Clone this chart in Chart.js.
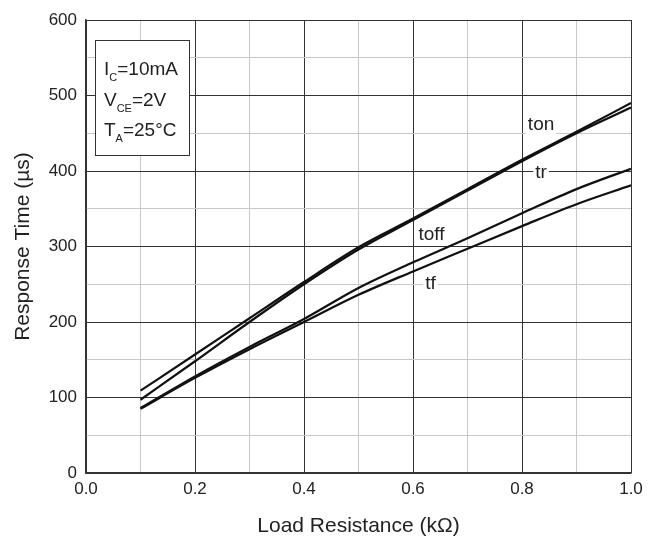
<!DOCTYPE html>
<html>
<head>
<meta charset="utf-8">
<script src="https://cdn.jsdelivr.net/npm/chart.js@4"></script>
<style>
  body { margin: 0; background: #fff; }
  #chart { display: block; }
</style>
</head>
<body>
<canvas id="chart" width="659" height="540"></canvas>
<script>
// Данные
const loadRes = [0.1, 0.2, 0.3, 0.4, 0.5, 0.6, 0.7, 0.8, 0.9, 1.0];
const ton  = [109, 157, 205, 253, 299, 337, 376, 415, 452, 490];
const tr   = [97, 148, 200, 250, 296, 335, 374, 413, 450, 484];
const toff = [86, 128, 167, 204, 245, 279, 311, 344, 376, 403];
const tf   = [85, 126, 164, 200, 236, 267, 297, 327, 356, 381];

// Подписи кривых: [текст, x, y] в координатах данных
const curveLabels = [
    ["ton", 0.835, 461],
    ["tr", 0.835, 397],
    ["toff", 0.634, 315],
    ["tf", 0.632, 251],
];

const FONT = "'Liberation Sans', Arial, sans-serif";

function series(values) {
    return values.map((v, i) => ({ x: loadRes[i], y: v }));
}

function lineSet(values) {
    return {
        data: series(values),
        borderColor: "#111",
        borderWidth: 2.2,
        pointRadius: 0,
        cubicInterpolationMode: "monotone",
        fill: false,
    };
}

// Подписи кривых и рамка с условиями измерения
const annotations = {
    id: "annotations",
    afterDatasetsDraw(chart) {
        const ctx = chart.ctx;
        const xs = chart.scales.x, ys = chart.scales.y;
        ctx.save();
        ctx.font = "19px " + FONT;
        ctx.textAlign = "center";
        ctx.textBaseline = "middle";
        curveLabels.forEach(([text, x, y]) => {
            const px = xs.getPixelForValue(x), py = ys.getPixelForValue(y);
            const w = ctx.measureText(text).width;
            ctx.fillStyle = "#fff";
            ctx.fillRect(px - w / 2 - 2, py - 9, w + 4, 18);
            ctx.fillStyle = "#222";
            ctx.fillText(text, px, py);
        });

        // рамка
        const area = chart.chartArea;
        const bx = area.left + 9, by = area.top + 20, bw = 94, bh = 115;
        ctx.fillStyle = "#fff";
        ctx.fillRect(bx, by, bw, bh);
        ctx.strokeStyle = "#333";
        ctx.lineWidth = 1;
        ctx.strokeRect(bx + 0.5, by + 0.5, bw, bh);

        const rows = [
            ["I", "C", "=10mA"],
            ["V", "CE", "=2V"],
            ["T", "A", "=25°C"],
        ];
        ctx.textAlign = "left";
        ctx.textBaseline = "alphabetic";
        ctx.fillStyle = "#222";
        rows.forEach(([main, sub, rest], i) => {
            const y = by + 35 + i * 30.5;
            let x = bx + 9;
            ctx.font = "19px " + FONT;
            ctx.fillText(main, x, y);
            x += ctx.measureText(main).width;
            ctx.font = "11px " + FONT;
            ctx.fillText(sub, x, y + 6);
            x += ctx.measureText(sub).width;
            ctx.font = "19px " + FONT;
            ctx.fillText(rest, x, y);
        });
        ctx.restore();
    },
};

const majorX = (v) => Math.round(v * 10) % 2 === 0;
const majorY = (v) => Math.round(v) % 100 === 0;

new Chart(document.getElementById("chart"), {
    type: "line",
    data: { datasets: [lineSet(ton), lineSet(tr), lineSet(toff), lineSet(tf)] },
    options: {
        responsive: false,
        animation: false,
        layout: { padding: { left: 0, right: 28, top: 20, bottom: 0 } },
        plugins: { legend: { display: false }, tooltip: { enabled: false } },
        scales: {
            x: {
                type: "linear",
                min: 0,
                max: 1,
                ticks: {
                    stepSize: 0.1,
                    autoSkip: false,
                    maxRotation: 0,
                    padding: 6,
                    color: "#222",
                    font: { size: 17, family: FONT },
                    callback: (v) => (majorX(v) ? v.toFixed(1) : ""),
                },
                grid: {
                    drawTicks: false,
                    color: (c) => (majorX(c.tick.value) ? "#333" : "#c8c8c8"),
                    lineWidth: 1,
                },
                border: { color: "#333", width: 1.5 },
                title: {
                    display: true,
                    text: "Load Resistance (kΩ)",
                    color: "#222",
                    font: { size: 21, family: FONT },
                    padding: { top: 1, bottom: 1 },
                },
                afterFit: (s) => { s.height = 67; },
            },
            y: {
                min: 0,
                max: 600,
                ticks: {
                    stepSize: 50,
                    autoSkip: false,
                    padding: 9,
                    color: "#222",
                    font: { size: 17, family: FONT },
                    callback: (v) => (majorY(v) ? String(v) : ""),
                },
                grid: {
                    drawTicks: false,
                    color: (c) => (majorY(c.tick.value) ? "#333" : "#c8c8c8"),
                    lineWidth: 1,
                },
                border: { color: "#333", width: 1.5 },
                title: {
                    display: true,
                    text: "Response Time (µs)",
                    color: "#222",
                    font: { size: 21, family: FONT },
                    padding: { top: 11, bottom: 11 },
                },
                afterFit: (s) => { s.width = 86; },
            },
        },
    },
    plugins: [annotations],
});
</script>
</body>
</html>
